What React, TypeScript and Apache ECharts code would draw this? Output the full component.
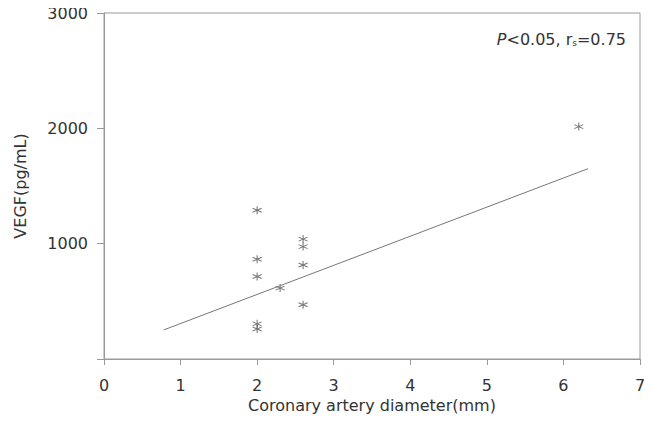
import React, { useEffect, useRef } from "react";
import * as echarts from "echarts";

const diameter = [2, 2, 2, 2, 2, 2.3, 2.6, 2.6, 2.6, 2.6, 6.2];
const vegf = [1290, 865, 715, 305, 260, 615, 1040, 975, 815, 470, 2015];
const fitX = [0.78, 6.32];
const fitY = [252, 1650];
const xTicks = [0, 7, 1];
const yTicks = [0, 3000, 1000];

const FONT = "DejaVu Sans";
const GRAY = "#9a9a9a";
const TEXT = "#333";
const STAR = "path://M5,0 L5,10 M0.67,2.5 L9.33,7.5 M0.67,7.5 L9.33,2.5";

export default function App() {
  const ref = useRef<HTMLDivElement>(null);
  useEffect(() => {
    if (!ref.current) return;
    const chart = echarts.init(ref.current, null, { renderer: "svg" });
    chart.setOption({
      animation: false,
      backgroundColor: "#fff",
      grid: {
        left: 104,
        right: 12,
        top: 13,
        bottom: 68,
        show: true,
        borderColor: GRAY,
        borderWidth: 1,
      },
      xAxis: {
        type: "value",
        min: xTicks[0],
        max: xTicks[1],
        interval: xTicks[2],
        name: "Coronary artery diameter(mm)",
        nameLocation: "middle",
        nameGap: 36,
        nameTextStyle: { fontFamily: FONT, fontSize: 16, color: TEXT },
        axisLine: { show: true, onZero: false, lineStyle: { color: GRAY } },
        axisTick: { show: true, length: 6, lineStyle: { color: GRAY } },
        axisLabel: { fontFamily: FONT, fontSize: 16, color: TEXT, margin: 18 },
        splitLine: { show: false },
      },
      yAxis: {
        type: "value",
        min: yTicks[0],
        max: yTicks[1],
        interval: yTicks[2],
        name: "VEGF(pg/mL)",
        nameLocation: "middle",
        nameGap: 76,
        nameTextStyle: { fontFamily: FONT, fontSize: 16, color: TEXT },
        axisLine: { show: true, onZero: false, lineStyle: { color: GRAY } },
        axisTick: { show: true, length: 7, lineStyle: { color: GRAY } },
        axisLabel: {
          fontFamily: FONT,
          fontSize: 16,
          color: TEXT,
          margin: 16,
          formatter: (v: number) => (v === 0 ? "" : String(v)),
        },
        splitLine: { show: false },
      },
      graphic: [
        {
          type: "text",
          right: 26,
          top: 31,
          style: {
            text: "{p|P}<0.05, r{s|s}=0.75",
            fontFamily: FONT,
            fontSize: 16,
            fill: TEXT,
            rich: {
              p: { fontFamily: FONT, fontSize: 16, fontStyle: "italic", fill: TEXT },
              s: { fontFamily: FONT, fontSize: 9, fill: TEXT, verticalAlign: "bottom", padding: [8, 0, 0, 0] },
            },
          },
        },
      ],
      series: [
        {
          type: "line",
          data: fitX.map((x, i) => [x, fitY[i]]),
          symbol: "none",
          lineStyle: { color: "#777", width: 1 },
          silent: true,
        },
        {
          type: "scatter",
          data: diameter.map((x, i) => [x, vegf[i]]),
          symbol: STAR,
          symbolSize: [9, 8],
          itemStyle: { color: "none", borderColor: "#555", borderWidth: 1 },
        },
      ],
    });
    return () => chart.dispose();
  }, []);
  return <div ref={ref} style={{ width: 652, height: 427, margin: -8 }} />;
}
